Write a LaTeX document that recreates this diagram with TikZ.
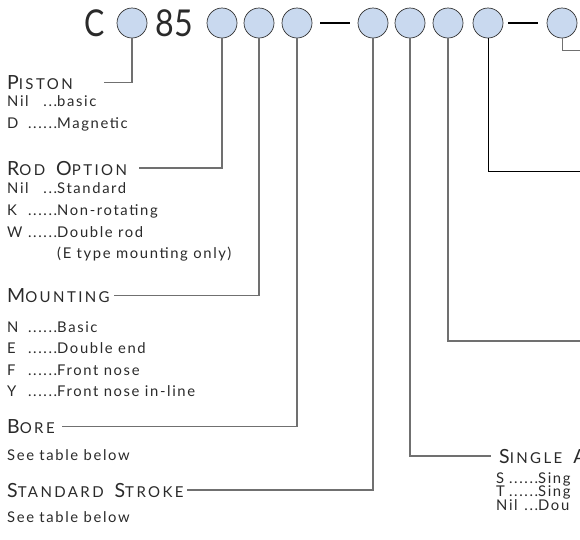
\documentclass[tikz,border=0pt]{standalone}
\usepackage{fontspec}
\setmainfont{Lato}[LetterSpace=12]
\usetikzlibrary{positioning}

\definecolor{bubbleFill}{HTML}{C9D9EF}
\definecolor{leadGray}{HTML}{707070}
\definecolor{inkGray}{HTML}{2A2A2A}

% heading in spaced small capitals: first letter big, the rest small
\newcommand\capWord[2]{{\fontsize{19.5}{19.5}\selectfont #1}{\fontsize{15}{15}\selectfont #2}}
\newcommand\wordGap{\hspace{11pt}}
% one option line: key, dots, text
\newcommand\optLine[4]{\makebox[#1][l]{#2\hfill#3}#4}
\newcommand\dotsShort{...}
\newcommand\dotsLong{......}

\tikzset{
    bubble/.style={circle, draw=black!80, fill=bubbleFill, line width=0.7pt,
        minimum size=30pt, inner sep=0pt},
    lead/.style={draw=leadGray, line width=1.1pt},
    headText/.style={inner sep=0pt, anchor=base west, text=inkGray,
        font={\addfontfeature{LetterSpace=16}}},
    optText/.style={inner sep=0pt, anchor=base west, text=inkGray,
        font={\fontsize{14.8}{14.8}\selectfont\addfontfeature{LetterSpace=11}}},
    bigText/.style={text=inkGray, inner sep=0pt,
        font={\fontsize{37}{37}\selectfont\addfontfeature{LetterSpace=0}}},
}

\begin{document}
\begin{tikzpicture}[x=1pt, y=-1pt]
    \clip (0,0) rectangle (580,539);

    % Code line
    \node[bigText] (letterC) at (95,23.5) {\scalebox{0.82}[1]{C}};
    \node[bigText] (bore85) at (174,23.5) {\scalebox{0.87}[1]{85}};
    \foreach \name/\x in {piston/132, rod/222, mount/259, bore/297,
        stroke/373, single/410, posSeven/448, posEight/488, posNine/562} {
        \node[bubble] (\name) at (\x,23) {};
    }
    \draw[line width=2.6pt] ([xshift=8pt]bore.east) -- ([xshift=-8pt]stroke.west);
    \draw[line width=2.6pt] ([xshift=5pt]posEight.east) -- ([xshift=-9pt]posNine.west);

    % Piston
    \node[headText] (pistonHead) at (7,89) {\capWord{P}{ISTON}};
    \foreach \k/\d/\t [count=\i from 0] in {Nil/\dotsShort/basic, D/\dotsLong/Magnetic} {
        \node[optText] (pistonOpt\i) at (7,{106+\i*22}) {\optLine{50pt}{\k}{\d}{\t}};
    }

    % Rod option
    \node[headText] (rodHead) at (7,175) {\capWord{R}{OD}\wordGap\capWord{O}{PTION}};
    \foreach \k/\d/\t [count=\i from 0] in {Nil/\dotsShort/Standard, K/\dotsLong/Non-rotating,
        W/\dotsLong/Double rod} {
        \node[optText] (rodOpt\i) at (7,{193+\i*22}) {\optLine{50pt}{\k}{\d}{\t}};
    }
    \node[optText] (rodNote) at (57,258) {(E type mounting only)};

    % Mounting
    \node[headText] (mountHead) at (7,302) {\capWord{M}{OUNTING}};
    \foreach \k/\d/\t [count=\i from 0] in {N/\dotsLong/Basic, E/\dotsLong/Double end,
        F/\dotsLong/Front nose, Y/\dotsLong/Front nose in-line} {
        \node[optText] (mountOpt\i) at (7,{332+\i*21.6}) {\optLine{50pt}{\k}{\d}{\t}};
    }

    % Bore
    \node[headText] (boreHead) at (7,433) {\capWord{B}{ORE}};
    \node[optText] (boreNote) at (7,460) {See table below};

    % Standard stroke
    \node[headText] (strokeHead) at (7,497) {\capWord{S}{TANDARD}\wordGap\capWord{S}{TROKE}};
    \node[optText] (strokeNote) at (7,522) {See table below};

    % Single acting
    \node[headText] (singleHead) at (499,463) {\capWord{S}{INGLE}\wordGap\capWord{A}{}};
    \foreach \k/\d/\t [count=\i from 0] in {S/\dotsLong/Sing, T/\dotsLong/Sing, Nil/\dotsShort/Dou} {
        \node[optText] (singleOpt\i) at (496,{483+\i*13.8}) {\optLine{42pt}{\k}{\d}{\t}};
    }

    % Leads
    \draw[lead] (piston.south) |- ([xshift=31pt]pistonHead.east);
    \draw[lead] (rod.south) |- ([xshift=12pt]rodHead.east);
    \draw[lead] (mount.south) |- ([xshift=4pt]mountHead.east);
    \draw[lead] (bore.south) |- ([xshift=7pt]boreHead.east);
    \draw[lead] (stroke.south) |- ([xshift=3pt]strokeHead.east);
    \draw[lead] (single.south) |- ([xshift=-8pt]singleHead.west);
    \coordinate (posSevenEnd) at (580,341);
    \coordinate (posEightEnd) at (580,171);
    \coordinate (posNineEnd) at (580,50);
    \draw[lead] (posSeven.south) |- (posSevenEnd);
    \draw[line width=0.9pt] (posEight.south) |- (posEightEnd);
    \draw[lead, line width=0.9pt] (posNine.south) |- (posNineEnd);
\end{tikzpicture}
\end{document}
